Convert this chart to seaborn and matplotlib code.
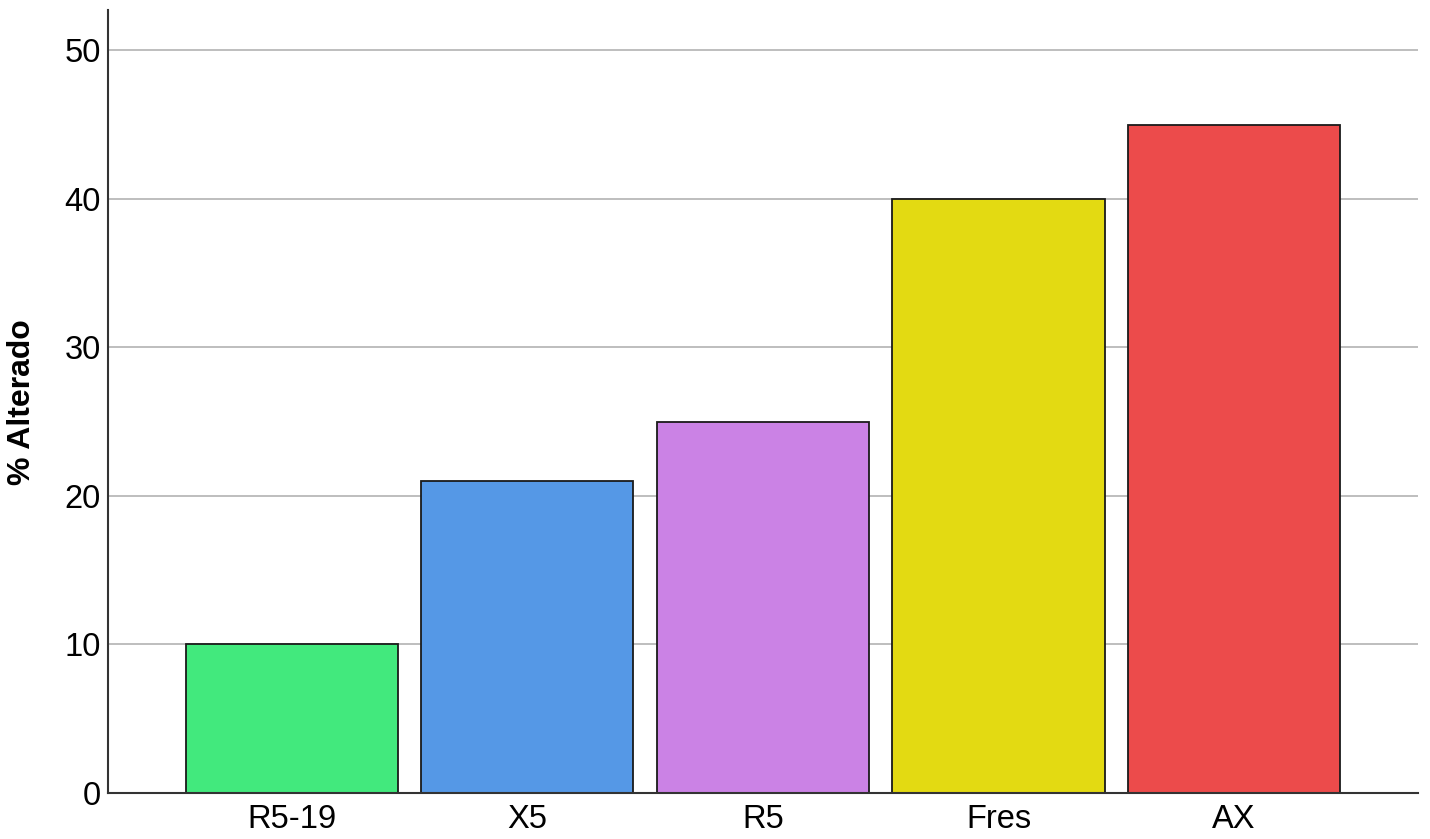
import matplotlib
matplotlib.use("Agg")
import matplotlib.pyplot as plt
from matplotlib import font_manager
import seaborn as sns
import pandas as pd

categories = ["R5-19", "X5", "R5", "Fres", "AX"]
values = [10, 21, 25, 40, 45]
colors = ["#42E97D", "#5598E6", "#CB82E5", "#E3DA12", "#EC4B4B"]

sns.set_theme(style="white")
plt.rcParams['font.family'] = ['Liberation Sans', 'DejaVu Sans']

# bold label: pick the regular-width Liberation Sans Bold file, not the Narrow one
bold_font = None
for path in font_manager.findSystemFonts():
    if path.endswith("LiberationSans-Bold.ttf"):
        bold_font = font_manager.FontProperties(fname=path)
        break
if bold_font is None:
    bold_font = font_manager.FontProperties(family="DejaVu Sans", weight="bold")

df = pd.DataFrame({"grupo": categories, "pct": values})

fig = plt.figure(figsize=(14.3, 8.39), dpi=100)
ax = fig.add_axes([0.0755, 0.0548, 0.916, 0.933])

ax.yaxis.grid(True, color="#BEBEBE", linewidth=1.4, zorder=0)
ax.set_axisbelow(True)

sns.barplot(data=df, x="grupo", y="pct", hue="grupo", palette=colors,
            legend=False, width=0.9, edgecolor="#1a1a1a", linewidth=1.3,
            saturation=1, ax=ax, zorder=2)

ax.set_xlim(-0.78, 4.78)
ax.set_ylim(0, 52.7)
ax.set_yticks([0, 10, 20, 30, 40, 50])
ax.set_xlabel("")
bold_font.set_size(23)
ax.set_ylabel("% Alterado", fontproperties=bold_font, color="black")
ax.yaxis.set_label_coords(-0.054, 0.5)
ax.tick_params(axis="y", length=0, labelsize=23.5, colors="black", pad=5)
ax.tick_params(axis="x", length=0, labelsize=23.5, colors="black", pad=8)

for side in ["top", "right"]:
    ax.spines[side].set_visible(False)
for side in ["left", "bottom"]:
    ax.spines[side].set_color("#333333")
    ax.spines[side].set_linewidth(1.5)

fig.savefig("out.png", dpi=100, facecolor="white")
